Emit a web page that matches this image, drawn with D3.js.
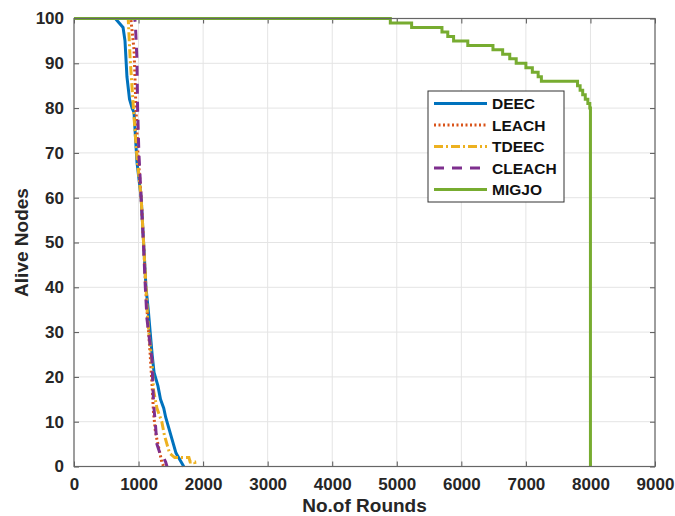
<!DOCTYPE html>
<html>
<head>
<meta charset="utf-8">
<script src="https://cdn.jsdelivr.net/npm/d3@7"></script>
<style>
  html, body { margin: 0; padding: 0; background: #fff; }
  svg { display: block; font-family: "Liberation Sans", Arial, sans-serif; }
</style>
</head>
<body>
<svg id="chart" width="675" height="516"></svg>
<script>
// Alive nodes per protocol: [round, alive nodes] breakpoints
const deec = [[0,100],[640,100],[700,99],[760,98],[790,95],[820,87],[860,82],[880,81],[900,80],[930,79],[975,68],[1040,60],[1078,50],[1115,40],[1150,35],[1180,30],[1210,25],[1240,21],[1260,20],[1300,18],[1340,15],[1390,13],[1420,11],[1460,9],[1500,7],[1540,5],[1580,3],[1620,2],[1660,1],[1700,0]];
const leach = [[0,100],[880,100],[930,93],[960,80],[990,70],[1040,60],[1078,50],[1110,40],[1140,33],[1180,25],[1210,18],[1232,12],[1260,8],[1285,6],[1330,3],[1360,1],[1390,0]];
const tdeec = [[0,100],[840,100],[870,91],[920,80],[975,69],[1040,60],[1078,50],[1115,40],[1140,33],[1180,27],[1210,23],[1232,17],[1285,13],[1360,10],[1400,7],[1440,5],[1480,3],[1560,2],[1780,2],[1800,1],[1870,1],[1880,0]];
const cleach = [[0,100],[940,100],[950,99],[975,91],[985,80],[1005,70],[1040,60],[1075,50],[1105,40],[1130,33],[1180,27],[1207,24],[1232,14],[1258,10],[1285,5],[1330,3],[1387,2],[1420,1],[1440,0]];
// MIGJO loses nodes one at a time (step after each round listed)
const migjo = [[0,100],[4900,99],[5230,98],[5700,97],[5790,96],[5880,95],[6100,94],[6490,93],[6640,92],[6750,91],[6850,90],[7000,89],[7100,88],[7190,87],[7240,86],[7800,85],[7840,84],[7880,83],[7920,82],[7960,81],[7990,80],[8000,0]];

const xTicks = [0,1000,2000,3000,4000,5000,6000,7000,8000,9000];
const yTicks = [0,10,20,30,40,50,60,70,80,90,100];

const seriesNames = ["DEEC","LEACH","TDEEC","CLEACH","MIGJO"];
const seriesData = [deec, leach, tdeec, cleach, migjo];
const seriesColors = ["#0072BD","#D95319","#EDB120","#7E2F8E","#77AC30"];
const seriesDash = [null, "2,2.5", "9,3,2,3", "10,8", null];

const svg = d3.select("#chart");
const pLeft = 74, pRight = 655, pTop = 18.5, pBottom = 466.5;

const x = d3.scaleLinear().domain([0, 9000]).range([pLeft, pRight]);
const y = d3.scaleLinear().domain([0, 100]).range([pBottom, pTop]);

// grid
const grid = svg.append("g").attr("stroke", "#e4e4e4").attr("stroke-width", 1);
xTicks.forEach(t => grid.append("line")
  .attr("x1", x(t)).attr("x2", x(t)).attr("y1", pTop).attr("y2", pBottom));
yTicks.forEach(t => grid.append("line")
  .attr("x1", pLeft).attr("x2", pRight).attr("y1", y(t)).attr("y2", y(t)));

// axes with inward ticks
const tickLen = 5;
const fmt = d3.format("d");
const xAxis = d3.axisBottom(x).tickValues(xTicks).tickFormat(fmt).tickSizeInner(-tickLen).tickSizeOuter(0).tickPadding(11);
const yAxis = d3.axisLeft(y).tickValues(yTicks).tickFormat(fmt).tickSizeInner(-tickLen).tickSizeOuter(0).tickPadding(10);
const xTopAxis = d3.axisTop(x).tickValues(xTicks).tickSizeInner(-tickLen).tickSizeOuter(0).tickFormat("");
const yRightAxis = d3.axisRight(y).tickValues(yTicks).tickSizeInner(-tickLen).tickSizeOuter(0).tickFormat("");

function styleAxis(g) {
  g.select(".domain").remove();
  g.selectAll(".tick line").attr("stroke", "#555");
  g.selectAll(".tick text").attr("fill", "#262626").style("font-size", "17px").style("font-weight", "bold")
    .style("font-family", "'Liberation Sans', Arial, sans-serif");
}
svg.append("g").attr("transform", `translate(0,${pBottom})`).call(xAxis).call(styleAxis);
svg.append("g").attr("transform", `translate(${pLeft},0)`).call(yAxis).call(styleAxis);
svg.append("g").attr("transform", `translate(0,${pTop})`).call(xTopAxis).call(styleAxis);
svg.append("g").attr("transform", `translate(${pRight},0)`).call(yRightAxis).call(styleAxis);

// lines
const plot = svg.append("g");
seriesData.forEach((data, i) => {
  const line = d3.line()
    .x(d => x(d[0])).y(d => y(d[1]))
    .curve(seriesNames[i] === "MIGJO" ? d3.curveStepAfter : d3.curveLinear);
  plot.append("path")
    .datum(data)
    .attr("fill", "none")
    .attr("stroke", seriesColors[i])
    .attr("stroke-width", 3)
    .attr("stroke-dasharray", seriesDash[i])
    .attr("d", line);
});

// frame
svg.append("rect")
  .attr("x", pLeft).attr("y", pTop).attr("width", pRight - pLeft).attr("height", pBottom - pTop)
  .attr("fill", "none").attr("stroke", "#666").attr("stroke-width", 1.2);

// axis labels
svg.append("text")
  .attr("x", (pLeft + pRight) / 2).attr("y", 512)
  .attr("text-anchor", "middle")
  .attr("fill", "#262626")
  .style("font-size", "19px").style("font-weight", "bold")
  .text("No.of Rounds");
svg.append("text")
  .attr("transform", `translate(28,${(pTop + pBottom) / 2}) rotate(-90)`)
  .attr("text-anchor", "middle")
  .attr("fill", "#262626")
  .style("font-size", "19px").style("font-weight", "bold")
  .text("Alive Nodes");

// legend
const lg = svg.append("g").attr("transform", "translate(428,91)");
lg.append("rect").attr("width", 136).attr("height", 111)
  .attr("fill", "#fff").attr("stroke", "#333").attr("stroke-width", 1);
seriesNames.forEach((name, i) => {
  const yy = 12.5 + i * 21.5;
  lg.append("line")
    .attr("x1", 6).attr("x2", 59).attr("y1", yy).attr("y2", yy)
    .attr("stroke", seriesColors[i]).attr("stroke-width", 3)
    .attr("stroke-dasharray", seriesDash[i]);
  lg.append("text")
    .attr("x", 64).attr("y", yy + 5.5)
    .attr("fill", "#111")
    .style("font-size", "15.5px").style("font-weight", "bold")
    .text(name);
});
</script>
</body>
</html>
